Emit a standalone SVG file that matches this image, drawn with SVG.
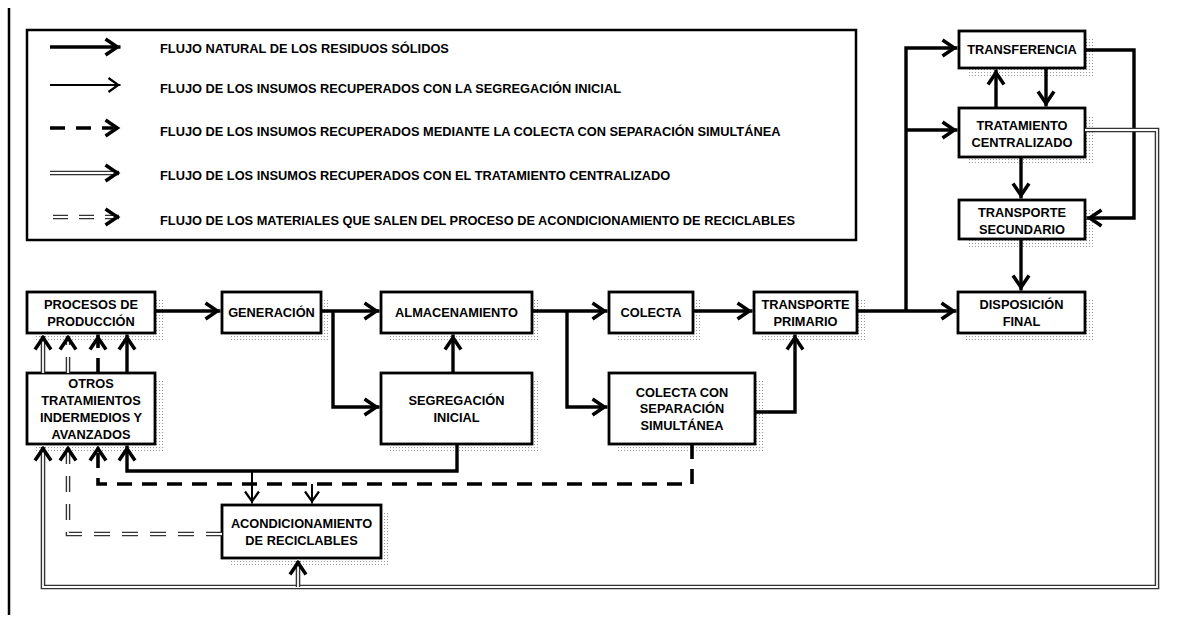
<svg xmlns="http://www.w3.org/2000/svg" width="1180" height="617" viewBox="0 0 1180 617">
<style>
.box{fill:#fff;stroke:#000;stroke-width:2.8}
.sh{fill:url(#dots)}
.t{font-family:"Liberation Sans",Arial,sans-serif;font-weight:bold;font-size:12.8px;text-anchor:middle;fill:#000}
.lt{font-family:"Liberation Sans",Arial,sans-serif;font-weight:bold;font-size:12.8px;fill:#000}
.s{fill:none;stroke:#000;stroke-width:3.4;stroke-linejoin:miter}
.th{fill:none;stroke:#000;stroke-width:2}
.d{fill:none;stroke:#000;stroke-width:3.6;stroke-dasharray:15 10}
.wo{fill:none;stroke:#333;stroke-width:4.6}
.wi{fill:none;stroke:#fff;stroke-width:1.8}
.wdo{fill:none;stroke:#333;stroke-width:4.6;stroke-dasharray:16 12}
.wdi{fill:none;stroke:#fff;stroke-width:1.8;stroke-dasharray:16 12}
</style>
<defs>
<pattern id="dots" width="3" height="3" patternUnits="userSpaceOnUse"><rect width="1" height="1" fill="#999"/></pattern>
<marker id="ah" markerUnits="userSpaceOnUse" markerWidth="22" markerHeight="24" viewBox="-18 -12 22 24" refX="0" refY="0" orient="auto" overflow="visible">
<path d="M-15,-8 L-3.2,0 L-15,8" fill="none" stroke="#000" stroke-width="3.5" stroke-dasharray="none"/>
</marker>
<marker id="ahT" markerUnits="userSpaceOnUse" markerWidth="20" markerHeight="20" viewBox="-16 -10 20 20" refX="0" refY="0" orient="auto" overflow="visible">
<path d="M-12,-7 L-2.2,0 L-12,7" fill="none" stroke="#000" stroke-width="2.2" stroke-dasharray="none"/>
</marker>
</defs>
<rect width="1180" height="617" fill="#fff"/>
<line x1="9" y1="8" x2="9" y2="615" stroke="#000" stroke-width="2.5"/>

<g id="legend">
<rect x="27" y="30" width="829" height="210" fill="none" stroke="#000" stroke-width="2.5"/>
<path class="s" d="M50,47 H120.5" marker-end="url(#ah)"/>
<path class="th" d="M50,85 H120.5" marker-end="url(#ahT)"/>
<path class="d" style="stroke-dasharray:15 11" d="M50,128 H120.5" marker-end="url(#ah)"/>
<path class="wo" d="M50,173 H119"/>
<path class="wi" d="M50,173 H120.5" marker-end="url(#ah)"/>
<path class="wdo" style="stroke-dasharray:15 11" d="M53,217 H119"/>
<path class="wdi" style="stroke-dasharray:15 11" d="M53,217 H120.5" marker-end="url(#ah)"/>
<text class="lt" x="160" y="52.5">FLUJO NATURAL DE LOS RESIDUOS SÓLIDOS</text>
<text class="lt" x="160" y="92.5">FLUJO DE LOS INSUMOS RECUPERADOS CON LA SEGREGACIÓN INICIAL</text>
<text class="lt" x="160" y="135.5">FLUJO DE LOS INSUMOS RECUPERADOS MEDIANTE LA COLECTA CON SEPARACIÓN SIMULTÁNEA</text>
<text class="lt" x="160" y="180">FLUJO DE LOS INSUMOS RECUPERADOS CON EL TRATAMIENTO CENTRALIZADO</text>
<text class="lt" x="160" y="224.5">FLUJO DE LOS MATERIALES QUE SALEN DEL PROCESO DE ACONDICIONAMIENTO DE RECICLABLES</text>
</g>

<g id="n-procesos"><rect class="sh" x="35" y="300" width="128" height="41"/><rect class="box" x="27" y="292" width="128" height="41"/><text class="t" x="91" y="308.5">PROCESOS DE</text><text class="t" x="91" y="325.5">PRODUCCIÓN</text></g>
<g id="n-generacion"><rect class="sh" x="230" y="300" width="99" height="41"/><rect class="box" x="222" y="292" width="99" height="41"/><text class="t" x="271.5" y="317">GENERACIÓN</text></g>
<g id="n-almacenamiento"><rect class="sh" x="389" y="300" width="151" height="41"/><rect class="box" x="381" y="292" width="151" height="41"/><text class="t" x="456.5" y="317">ALMACENAMIENTO</text></g>
<g id="n-colecta"><rect class="sh" x="617" y="300" width="84" height="41"/><rect class="box" x="609" y="292" width="84" height="41"/><text class="t" x="651" y="317">COLECTA</text></g>
<g id="n-transporte-primario"><rect class="sh" x="762" y="300" width="103" height="41"/><rect class="box" x="754" y="292" width="103" height="41"/><text class="t" x="805.5" y="308.5">TRANSPORTE</text><text class="t" x="805.5" y="325.5">PRIMARIO</text></g>
<g id="n-disposicion"><rect class="sh" x="966" y="300" width="127" height="41"/><rect class="box" x="958" y="292" width="127" height="41"/><text class="t" x="1021.5" y="308.5">DISPOSICIÓN</text><text class="t" x="1021.5" y="325.5">FINAL</text></g>
<g id="n-transferencia"><rect class="sh" x="967" y="39" width="126" height="37"/><rect class="box" x="959" y="31" width="126" height="37"/><text class="t" x="1022" y="53.5">TRANSFERENCIA</text></g>
<g id="n-tratamiento"><rect class="sh" x="967" y="116" width="126" height="49"/><rect class="box" x="959" y="108" width="126" height="49"/><text class="t" x="1022" y="129.5">TRATAMIENTO</text><text class="t" x="1022" y="146.5">CENTRALIZADO</text></g>
<g id="n-transporte-secundario"><rect class="sh" x="967" y="208" width="126" height="39"/><rect class="box" x="959" y="200" width="126" height="39"/><text class="t" x="1022" y="216.5">TRANSPORTE</text><text class="t" x="1022" y="233.5">SECUNDARIO</text></g>
<g id="n-otros"><rect class="sh" x="35" y="381" width="128" height="71"/><rect class="box" x="27" y="373" width="128" height="71"/><text class="t" x="91" y="387.5">OTROS</text><text class="t" x="91" y="404.5">TRATAMIENTOS</text><text class="t" x="91" y="421.5">INDERMEDIOS Y</text><text class="t" x="91" y="438.5">AVANZADOS</text></g>
<g id="n-segregacion"><rect class="sh" x="389" y="381" width="151" height="71"/><rect class="box" x="381" y="373" width="151" height="71"/><text class="t" x="456.5" y="404.5">SEGREGACIÓN</text><text class="t" x="456.5" y="421.5">INICIAL</text></g>
<g id="n-colecta-separacion"><rect class="sh" x="617" y="381" width="146" height="71"/><rect class="box" x="609" y="373" width="146" height="71"/><text class="t" x="682" y="396.5">COLECTA CON</text><text class="t" x="682" y="413">SEPARACIÓN</text><text class="t" x="682" y="429.5">SIMULTÁNEA</text></g>
<g id="n-acondicionamiento"><rect class="sh" x="230" y="513" width="159" height="53"/><rect class="box" x="222" y="505" width="159" height="53"/><text class="t" x="301.5" y="527.5">ACONDICIONAMIENTO</text><text class="t" x="301.5" y="544.5">DE RECICLABLES</text></g>

<g id="connectors">
<path class="s" d="M155,311 H220.5" marker-end="url(#ah)"/>
<path class="s" d="M321,311 H379.5" marker-end="url(#ah)"/>
<path class="s" d="M333,311 V407 H379.5" marker-end="url(#ah)"/>
<path class="s" d="M453,373 V334.5" marker-end="url(#ah)"/>
<path class="s" d="M532,311 H607.5" marker-end="url(#ah)"/>
<path class="s" d="M567,311 V407 H607.5" marker-end="url(#ah)"/>
<path class="s" d="M693,311 H752.5" marker-end="url(#ah)"/>
<path class="s" d="M755,412 H795 V334.5" marker-end="url(#ah)"/>
<path class="s" d="M857,311 H956.5" marker-end="url(#ah)"/>
<path class="s" d="M906,311 V48 H957.5" marker-end="url(#ah)"/>
<path class="s" d="M906,130 H957.5" marker-end="url(#ah)"/>
<path class="s" d="M996,108 V69.5" marker-end="url(#ah)"/>
<path class="s" d="M1046,68 V106.5" marker-end="url(#ah)"/>
<path class="s" d="M1085,50 H1134 V218 H1086.5" marker-end="url(#ah)"/>
<path class="s" d="M1021,157 V198.5" marker-end="url(#ah)"/>
<path class="s" d="M1021,239 V290.5" marker-end="url(#ah)"/>
<path class="s" d="M457,444 V471 H127 V445.5" marker-end="url(#ah)"/>
<path class="s" d="M127,373 V334.5" marker-end="url(#ah)"/>
<path class="th" d="M252,471 V503.5" marker-end="url(#ahT)"/>
<path class="d" d="M692,444 V484 H98 V445.5" marker-end="url(#ah)"/>
<path class="d" d="M98,373 V334.5" marker-end="url(#ah)"/>
<path class="th" d="M312,484 V503.5" marker-end="url(#ahT)"/>
<path class="wo" d="M1085,130 H1157 V587 H43 V447"/>
<path class="wi" d="M1085,130 H1157 V587 H43 V445.5" marker-end="url(#ah)"/>
<path class="wo" d="M298,587 V561"/>
<path class="wi" d="M298,587 V559.5" marker-end="url(#ah)"/>
<path class="wo" d="M43,373 V336"/>
<path class="wi" d="M43,373 V334.5" marker-end="url(#ah)"/>
<path class="wdo" d="M222,534 H68 V447"/>
<path class="wdi" d="M222,534 H68 V445.5" marker-end="url(#ah)"/>
<path class="wdo" d="M68,373 V336"/>
<path class="wdi" d="M68,373 V334.5" marker-end="url(#ah)"/>
</g>
</svg>
